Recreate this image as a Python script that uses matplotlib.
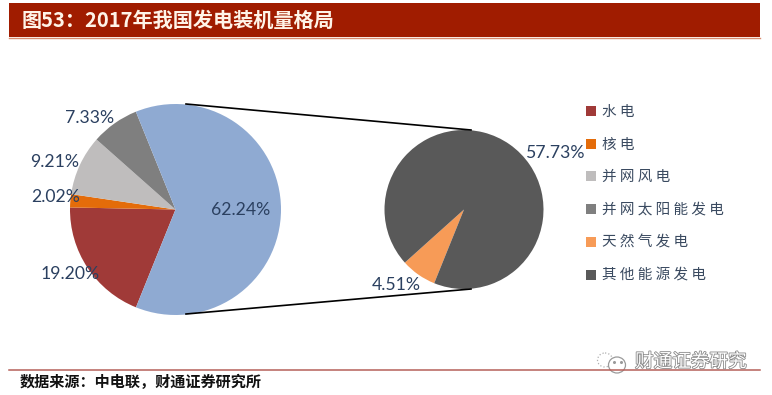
import matplotlib
matplotlib.use('Agg')
import matplotlib.pyplot as plt
from matplotlib.patches import Rectangle, Ellipse
import matplotlib.patheffects as pe

W, H = 772, 395
CJK = ['Noto Sans CJK SC', 'DejaVu Sans']

# left pie, clockwise from the bottom edge of the blue slice
main_values = [19.20, 2.02, 9.21, 7.33, 62.24]
main_colors = ['#a03a38', '#e46c0a', '#bfbdbd', '#7f7f7f', '#8faad2']
main_labels = ['19.20%', '2.02%', '9.21%', '7.33%', '62.24%']

# right pie, breakdown of the blue slice
sub_values = [4.51, 57.73]
sub_colors = ['#f79b57', '#595959']
sub_labels = ['4.51%', '57.73%']

legend_names = ['水 电', '核 电', '并 网 风 电', '并 网 太 阳 能 发 电', '天 然 气 发 电', '其 他 能 源 发 电']
legend_colors = ['#a03a38', '#e46c0a', '#bfbdbd', '#7f7f7f', '#f79b57', '#595959']

title = '图53：2017年我国发电装机量格局'
source = '数据来源：中电联，财通证券研究所'
watermark = '财通证券研究'

fig = plt.figure(figsize=(W / 100, H / 100), dpi=100)


def pie_axes(cx, cy, r):
    ax = fig.add_axes([(cx - r) / W, 1 - (cy + r) / H, 2 * r / W, 2 * r / H])
    ax.set_xlim(-1, 1)
    ax.set_ylim(-1, 1)
    return ax


ax1 = pie_axes(175.5, 209.5, 105.5)
ax1.pie(main_values, colors=main_colors, startangle=-112, counterclock=False, radius=1)
ax1.set_xlim(-1, 1)
ax1.set_ylim(-1, 1)

ax2 = pie_axes(464, 209.5, 79.5)
ax2.pie(sub_values, colors=sub_colors, startangle=248, counterclock=False, radius=1)
ax2.set_xlim(-1, 1)
ax2.set_ylim(-1, 1)

# overlay in pixel coordinates for the page furniture
page = fig.add_axes([0, 0, 1, 1], zorder=5)
page.set_xlim(0, W)
page.set_ylim(H, 0)
page.axis('off')
page.patch.set_alpha(0)

# title band
page.add_patch(Rectangle((9, 3), 751, 34, color='#a01c00', lw=0))
page.plot([9, 760], [37.5, 37.5], color='#d98c70', lw=1)
page.text(22, 20, title, color='#fff4e8', fontsize=14.5, fontweight='bold',
          family=CJK, va='center', ha='left')

# connector lines
page.plot([186, 471], [104, 130], color='black', lw=1.2)
page.plot([186, 471], [314, 289], color='black', lw=1.2)

# data labels
label_color = '#2b4060'
main_pos = [(70, 274), (56, 197), (55, 162), (90, 118), (241, 210)]
for txt, (x, y) in zip(main_labels, main_pos):
    page.text(x, y, txt, color=label_color, fontsize=12.7, family='Lato', ha='center', va='center')
sub_pos = [(396, 285), (556, 153)]
for txt, (x, y) in zip(sub_labels, sub_pos):
    page.text(x, y, txt, color=label_color, fontsize=12.7, family='Lato', ha='center', va='center')

# legend
legend_y = [111, 144, 176, 209, 242, 275]
for name, col, y in zip(legend_names, legend_colors, legend_y):
    page.add_patch(Rectangle((586, y - 5), 10, 10, color=col, lw=0))
    page.text(602, y + 0.5, name, color='#3a4a60', fontsize=10.5, family=CJK, ha='left', va='center')

# watermark
page.add_patch(Ellipse((605, 360), 15, 14, fill=False, ec='#b0b0b0', lw=0.9, ls=':'))
page.add_patch(Ellipse((617, 365), 17, 16, fc='white', ec='#9a9a9a', lw=0.9))
page.plot([614, 621], [362, 362], ls='none', marker='o', ms=1.2, color='#9a9a9a')

# footer
page.plot([9, 760], [370, 370], color='#b5605a', lw=1.1)
page.text(20, 381.5, source, color='#111111', fontsize=10.9, fontweight='bold',
          family=CJK, ha='left', va='center')

page.text(635, 362, watermark, color='white', fontsize=13.4, family=CJK, ha='left', va='center',
          path_effects=[pe.withStroke(linewidth=1.2, foreground='#8a8a8a')])

fig.savefig('out.png', dpi=100)
